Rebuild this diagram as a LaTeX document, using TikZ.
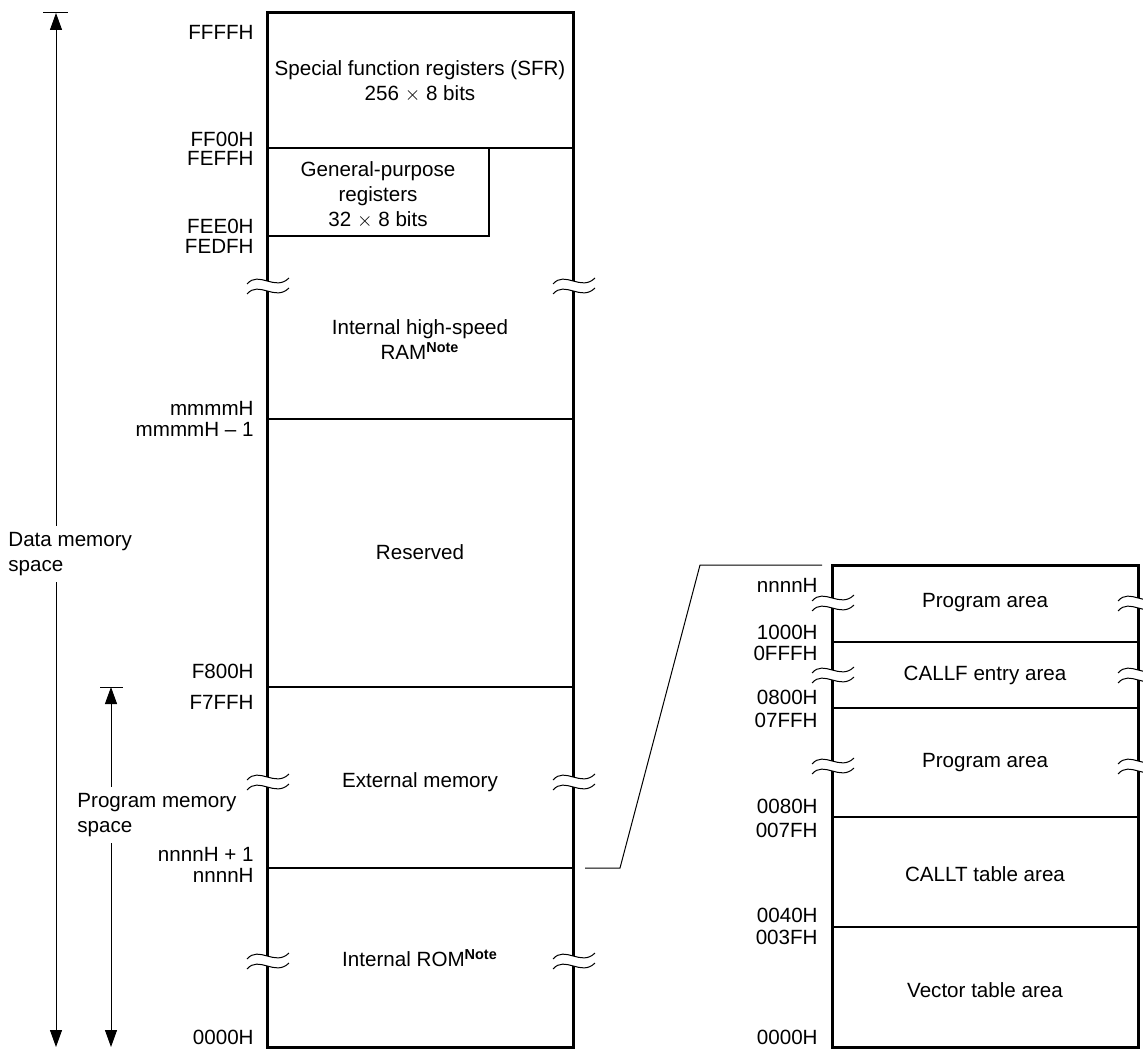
\documentclass[tikz,border=0pt]{standalone}
\usepackage{fontspec}
\setmainfont{Liberation Sans}
\usetikzlibrary{arrows.meta,positioning,calc}

% break in a frame edge: two small waves across the line at (#1,#2)
\newcommand{\memcut}[2]{%
  \fill[white] (#1-4,#2-5) rectangle (#1+4,#2+5);
  \foreach \dy in {-5,5}
    \draw[wave] (#1-20,#2+\dy+3) .. controls (#1-8,#2+\dy-11) and (#1+8,#2+\dy+11) .. (#1+22,#2+\dy-3);
}

\begin{document}
\begin{tikzpicture}[
  x=0.5pt, y=-0.5pt,
  >={Triangle[length=8.5pt, width=6pt]},
  font=\fontsize{10.3pt}{12.5pt}\selectfont,
  frame/.style={line width=1.5pt},
  divider/.style={line width=0.6pt},
  wave/.style={line width=0.5pt},
  span/.style={<->, line width=0.5pt},
  tick/.style={line width=0.5pt},
  link/.style={line width=0.5pt},
  addr/.style={anchor=east, inner sep=0pt},
  area/.style={align=center, inner sep=0pt},
  spanlbl/.style={anchor=west, align=left, fill=white, inner xsep=0pt, inner ysep=3pt},
]
\useasboundingbox (0,0) rectangle (1143,1048);

% ============================================================ MAIN MAP
\coordinate (Ltl) at (267,13);
\coordinate (Lbr) at (573,1047);
\draw[frame] (Ltl) rectangle (Lbr);
\foreach \y in {148,419,687,868}
  \draw[divider] (267,\y) -- (573,\y);
\draw[divider] (267,236) -| (489,148);

\foreach \y/\t in {32/FFFFH, 139/FF00H, 158/FEFFH, 226/FEE0H, 246/FEDFH,
                   408/mmmmH, 429/{mmmmH -- 1}, 671/F800H, 702/F7FFH,
                   854/{nnnnH + 1}, 875/nnnnH, 1037/0000H}
  \node[addr] (a\y) at (254,\y) {\t};

\node[area] (sfr) at (420,81) {Special function registers (SFR)\\256 $\times$ 8 bits};
\node[area] (gpr) at (378,195) {General-purpose\\registers\\32 $\times$ 8 bits};
\node[area] (ram) at (420,340) {Internal high-speed\\RAM\textsuperscript{\bfseries Note}};
\node[area] (rsv) at (420,552) {Reserved};
\node[area] (ext) at (420,782) {External memory};
\node[area] (rom) at (420,958) {Internal ROM\textsuperscript{\bfseries Note}};

\foreach \y in {286,782,961} {
  \memcut{267}{\y}
  \memcut{573}{\y}
}

% ============================================================ SPANS
\coordinate (dtop) at (56,13);
\coordinate (dbot) at (56,1047);
\draw[tick] (43,13) -- (68,13);
\draw[span] (dtop) -- (dbot);
\node[spanlbl] (dlbl) at (8,554) {Data memory\\space};

\coordinate (ptop) at (111,687);
\coordinate (pbot) at (111,1047);
\draw[tick] (100,687) -- (123,687);
\draw[span] (ptop) -- (pbot);
\node[spanlbl] (plbl) at (77,815) {Program memory\\space};

% ============================================================ ROM DETAIL
\coordinate (Rtl) at (832,565);
\coordinate (Rbr) at (1138,1047);
\draw[frame] (Rtl) rectangle (Rbr);
\foreach \y in {642,708,817,927}
  \draw[divider] (832,\y) -- (1138,\y);

\foreach \y/\t in {585/nnnnH, 632/1000H, 653/0FFFH, 697/0800H, 720/07FFH,
                   806/0080H, 830/007FH, 915/0040H, 937/003FH, 1037/0000H}
  \node[addr] (r\y) at (818,\y) {\t};

\node[area] (pa1) at (985,603) {Program area};
\node[area] (cf)  at (985,675) {CALLF entry area};
\node[area] (pa2) at (985,763) {Program area};
\node[area] (ct)  at (985,874) {CALLT table area};
\node[area] (vt)  at (985,990) {Vector table area};

\foreach \y in {603,675,766} {
  \memcut{832}{\y}
  \memcut{1138}{\y}
}

% zoom-out link from nnnnH to the detail map
\coordinate (k0) at (585,868);
\coordinate (k1) at (620,868);
\coordinate (k2) at (700,565);
\coordinate (k3) at (822,565);
\draw[link] (k0) -- (k1) -- (k2) -- (k3);

\end{tikzpicture}
\end{document}
